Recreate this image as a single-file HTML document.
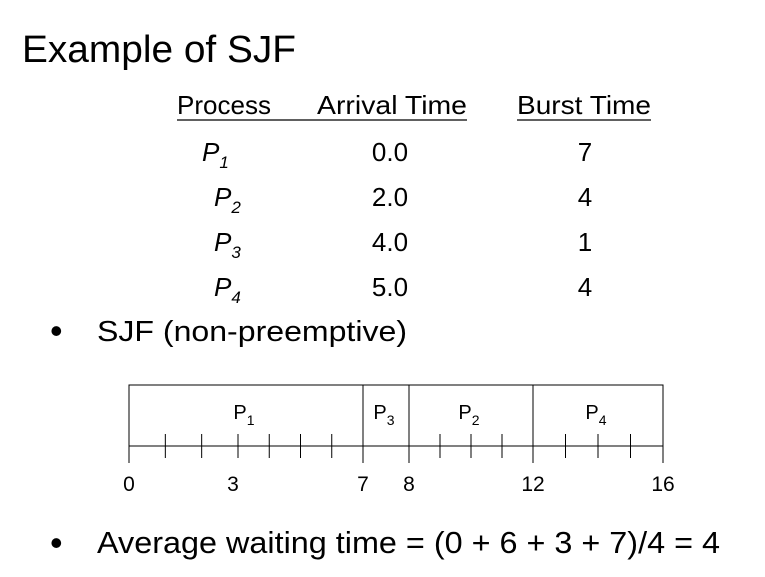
<!DOCTYPE html>
<html><head><meta charset="utf-8"><style>
html,body{margin:0;padding:0;background:#fff;}
svg{display:block;font-family:"Liberation Sans",sans-serif;}
</style></head><body>
<svg id="slide" width="765" height="577" viewBox="0 0 765 577">
<text x="22" y="62" font-size="38" textLength="274" lengthAdjust="spacingAndGlyphs">Example of SJF</text>
<g font-size="26">
<text x="177" y="114" textLength="94" lengthAdjust="spacingAndGlyphs">Process</text>
<text x="317" y="114" textLength="150" lengthAdjust="spacingAndGlyphs">Arrival Time</text>
<text x="517" y="114" textLength="134" lengthAdjust="spacingAndGlyphs">Burst Time</text>
<line x1="177" y1="120" x2="467" y2="120" stroke="#000" stroke-width="1.3"/>
<line x1="517" y1="120" x2="651" y2="120" stroke="#000" stroke-width="1.3"/>
<g id="rows"></g>
</g>
<text x="50" y="343" font-size="36">•</text>
<text x="97" y="341" font-size="29" textLength="310" lengthAdjust="spacingAndGlyphs">SJF (non-preemptive)</text>
<g id="gantt"></g>
<text x="50" y="555" font-size="36">•</text>
<text x="97" y="553" font-size="31" textLength="623" lengthAdjust="spacingAndGlyphs">Average waiting time = (0 + 6 + 3 + 7)/4 = 4</text>
</svg>
<script>
const procNames = ["1","2","3","4"];
const arrivals = ["0.0","2.0","4.0","5.0"];
const bursts = ["7","4","1","4"];
const segNames = ["1","3","2","4"];
const segStarts = [0,7,8,12];
const segEnds = [7,8,12,16];
const tickLabels = [0,3,7,8,12,16];
const minorTicks = [1,2,3,4,5,6,9,10,11,13,14,15];

const NS="http://www.w3.org/2000/svg";
function mk(tag,attrs,parent,txt){const e=document.createElementNS(NS,tag);for(const k in attrs)e.setAttribute(k,attrs[k]);if(txt!==undefined)e.textContent=txt;parent.appendChild(e);return e;}

const rows=document.getElementById('rows');
procNames.forEach((p,i)=>{
  const y=161+i*45;
  const t=mk('text',{x:i===0?202:214,y:y,'font-style':'italic','font-size':26},rows);
  
  
  mk('tspan',{},t,'P');
  mk('tspan',{dy:7,'font-size':17},t,p);
  const a=mk('text',{x:390,y:y,'text-anchor':'middle','font-size':26},rows,arrivals[i]);
  
  
  const b=mk('text',{x:585,y:y,'text-anchor':'middle','font-size':26},rows,bursts[i]);
  
  
});

const dom=[0,3,7,8,12,16], rng=[129,238,363,409,533,663];
function xs(v){for(let i=0;i<dom.length-1;i++){if(v<=dom[i+1]){return rng[i]+(v-dom[i])/(dom[i+1]-dom[i])*(rng[i+1]-rng[i]);}}return rng[rng.length-1];}
const g=document.getElementById('gantt');
const ganttTop=385, axisY=446, tickEnd=463;
const frame=mk('rect',{x:xs(0),y:ganttTop,width:xs(16)-xs(0),height:axisY-ganttTop,fill:'none',stroke:'#000','stroke-width':1},g);


segStarts.forEach((s,i)=>{
  const e=segEnds[i];
  const d=mk('line',{x1:xs(e),y1:ganttTop,x2:xs(e),y2:tickEnd,stroke:'#000','stroke-width':1},g);
  
  
  const t=mk('text',{x:(xs(s)+xs(e))/2-2,y:419,'text-anchor':'middle','font-size':20},g);
  
  
  mk('tspan',{},t,'P');
  mk('tspan',{dy:6,'font-size':14},t,segNames[i]);
});
const z=mk('line',{x1:xs(0),y1:ganttTop,x2:xs(0),y2:tickEnd,stroke:'#000','stroke-width':1},g);


minorTicks.forEach(v=>{
  const l=mk('line',{x1:xs(v),y1:axisY-12,x2:xs(v),y2:axisY+12,stroke:'#000','stroke-width':1},g);
  
  
});
tickLabels.forEach(v=>{
  const t=mk('text',{x:v===3?xs(v)-5:xs(v),y:491,'text-anchor':'middle','font-size':21},g,String(v));
  
  
});
</script>
</body></html>
